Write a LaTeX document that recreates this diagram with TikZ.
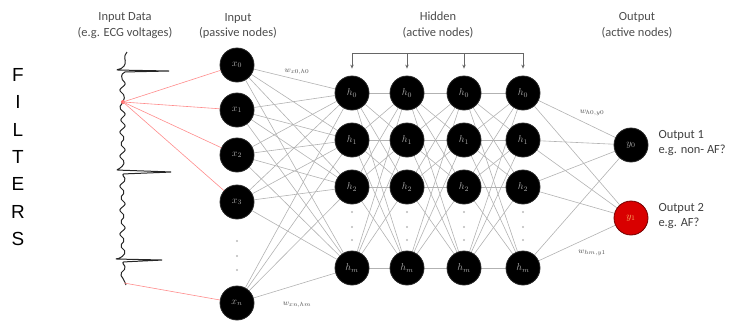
\documentclass[tikz,border=0pt]{standalone}
\usepackage{fontspec}
\setmainfont{Carlito}
\newfontfamily\filterfont{Liberation Sans}
\usetikzlibrary{arrows.meta,backgrounds}

\begin{document}
\begin{tikzpicture}[x=1bp,y=-1bp,
    neuron/.style={circle,fill=black,draw=black!85,line width=0.8bp,minimum size=34bp,inner sep=0pt,text=gray!65,font=\fontsize{10}{11}\selectfont},
    outneuron/.style={neuron,fill=red!85!black,draw=red!45!black,text=orange!60},
    link/.style={gray!60,line width=0.6bp},
    feed/.style={red!45,line width=0.6bp},
    head/.style={align=center,text=black!70,font=\fontsize{12.5}{16}\selectfont},
    note/.style={align=left,anchor=west,text=black!75,font=\fontsize{12.5}{16}\selectfont},
    weight/.style={text=black!70,font=\fontsize{8}{9}\selectfont}]
  \useasboundingbox (0,0) rectangle (731,320);

  % headings
  \node[head] (hdata) at (125,26) {Input Data\\(e.g. ECG voltages)};
  \node[head] (hin) at (238,26) {Input\\(passive nodes)};
  \node[head] (hhid) at (438,25) {Hidden\\(active nodes)};
  \node[head] (hout) at (637,25) {Output\\(active nodes)};

  \node[font=\filterfont\fontsize{19}{27.5}\selectfont,align=center] (filters) at (18,157) {F\\I\\L\\T\\E\\R\\S};

  % input nodes
  \foreach \i/\y in {0/65,1/110,2/155,3/202,n/303}
    \node[neuron] (x\i) at (237,\y) {$x_{\i}$};

  % hidden nodes
  \foreach \c/\x in {1/352,2/407,3/464,4/523}
    \foreach \r/\y in {0/93,1/140,2/187,m/268}
      \node[neuron] (h\c\r) at (\x,\y) {$h_{\r}$};

  % output nodes
  \node[neuron] (y0) at (631,145) {$y_0$};
  \node[outneuron] (y1) at (631,218) {$y_1$};

  \node[note] (out1) at (655,143) {Output 1\\e.g. non- AF?};
  \node[note] (out2) at (655,216) {Output 2\\e.g. AF?};

  % weights
  \begin{scope}[on background layer]
    \foreach \i in {0,1,2,3,n}
      \foreach \r in {0,1,2,m}
        \draw[link] (x\i) -- (h1\r);
    \foreach \c/\d in {1/2,2/3,3/4}
      \foreach \r in {0,1,2,m}
        \foreach \s in {0,1,2,m}
          \draw[link] (h\c\r) -- (h\d\s);
    \foreach \r in {0,1,2,m}
      \foreach \o in {0,1}
        \draw[link] (h4\r) -- (y\o);
  \end{scope}

  \node[weight] (w1) at (297,72) {$w_{x0,h0}$};
  \node[weight] (w2) at (297,305) {$w_{xn,hm}$};
  \node[weight] (w3) at (592,113) {$w_{h0,y0}$};
  \node[weight] (w4) at (592,253) {$w_{hm,y1}$};

  % dots
  \foreach \y in {241,256,270}
    \fill[gray!55] (237,\y) circle (1.1bp);
  \foreach \x in {352,407,464,523}
    \foreach \y in {212,227,240}
      \fill[gray!55] (\x,\y) circle (1.1bp);

  % recurrent bracket
  \coordinate (top) at (0,53);
  \draw[black!60,line width=0.8bp] (h10 |- top) -- (h40 |- top);
  \foreach \c in {1,2,3,4}
    \draw[black!60,line width=0.8bp,-{Stealth[length=4bp,width=3.5bp]},shorten >=7bp] (h\c0 |- top) -- (h\c0);

  % ecg trace
  \draw[black!85,line width=1bp,line join=round,rounded corners=2bp]
    (127,52) -- (124,57) -- (126,62) -- (123,68) -- (116,70) -- (170,71) -- (123,72)
    -- (121,78) -- (126,84) -- (119,90) -- (125,96) -- (123,102) -- (119,108) -- (126,114)
    -- (120,120) -- (126,126) -- (119,132) -- (125,138) -- (120,144) -- (126,150)
    -- (119,156) -- (125,162) -- (121,168) -- (116,170) -- (172,172) -- (122,174)
    -- (126,180) -- (119,186) -- (125,192) -- (120,198) -- (126,204) -- (119,210)
    -- (125,216) -- (120,222) -- (126,228) -- (119,234) -- (125,240) -- (120,246)
    -- (126,252) -- (121,258) -- (115,259) -- (163,260) -- (122,262) -- (126,268)
    -- (120,274) -- (124,280) -- (126,285);

  \coordinate (tap1) at (123,102);
  \coordinate (tap2) at (124,283);
  \fill[red!60] (tap1) circle (2bp);
  \foreach \i in {0,1,2,3}
    \draw[feed] (tap1) -- (x\i);
  \draw[feed] (tap2) -- (xn);
\end{tikzpicture}
\end{document}
